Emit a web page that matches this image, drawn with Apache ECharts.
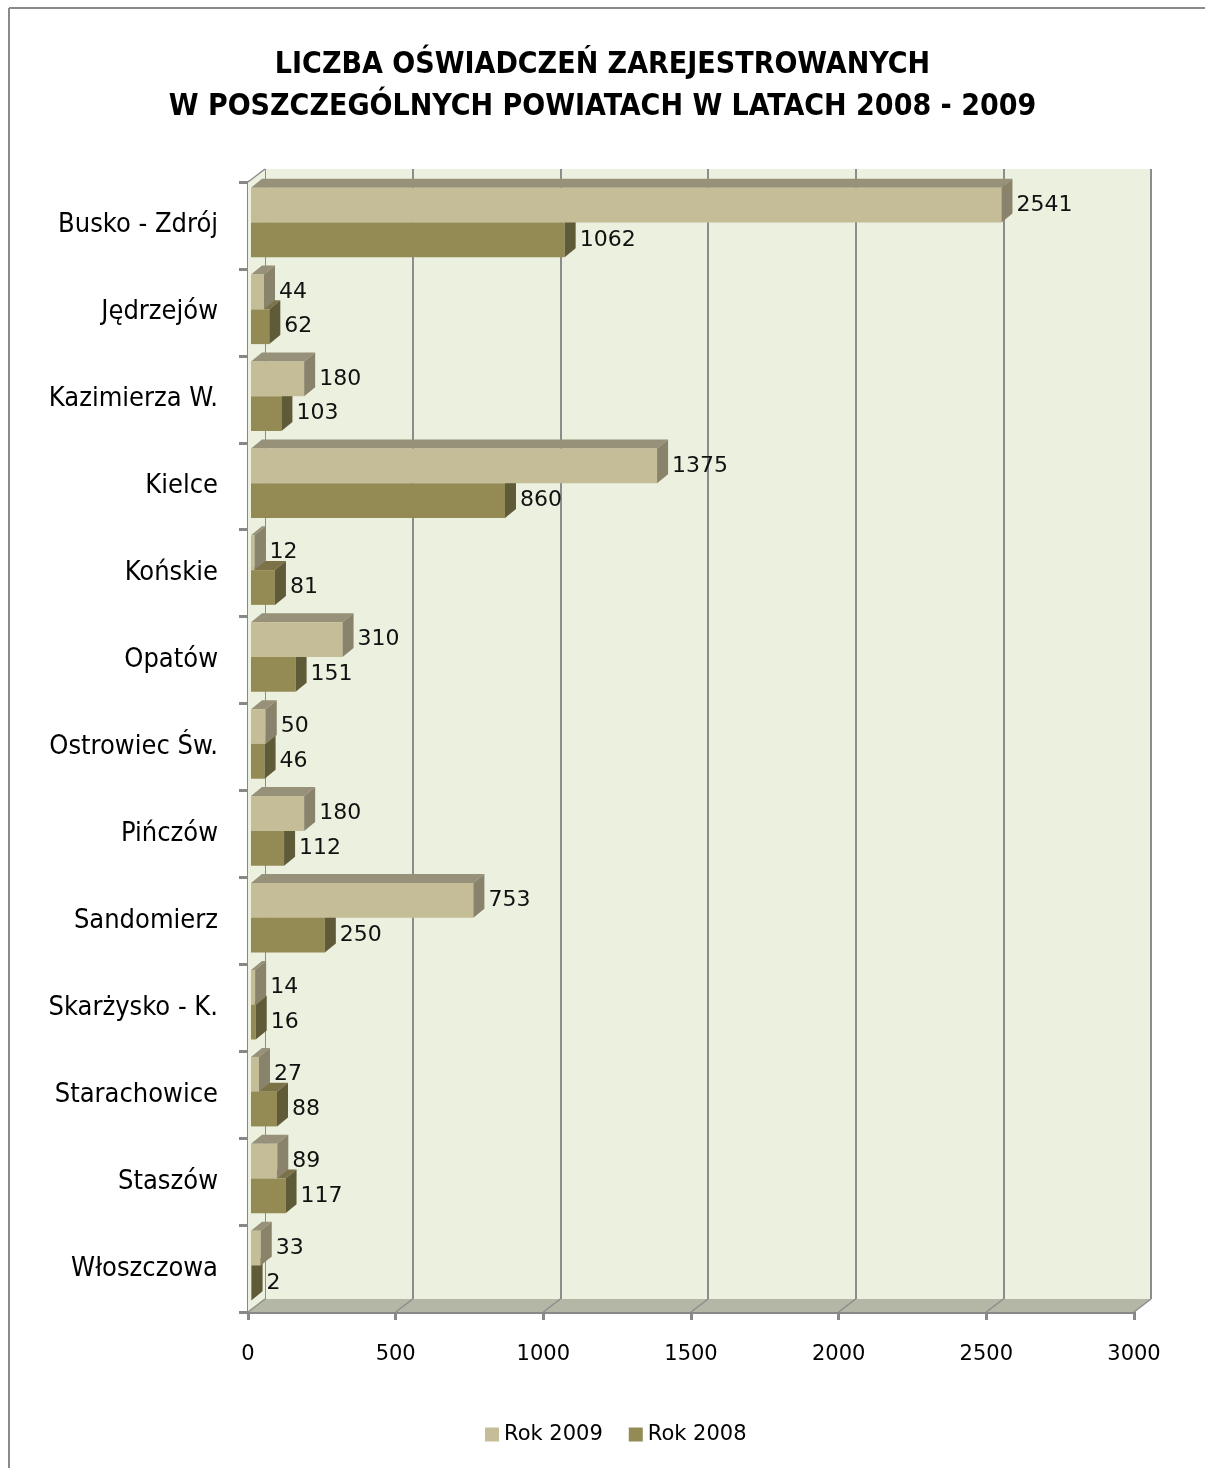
<!DOCTYPE html>
<html>
<head>
<meta charset="utf-8">
<script src="https://cdn.jsdelivr.net/npm/echarts@6/dist/echarts.min.js"></script>
<style>
html,body{margin:0;padding:0;background:#fff;}
#chart{width:1205px;height:1468px;}
</style>
</head>
<body>
<div id="chart"></div>
<script>
const categories = ['Busko - Zdrój','Jędrzejów','Kazimierza W.','Kielce','Końskie','Opatów','Ostrowiec Św.','Pińczów','Sandomierz','Skarżysko - K.','Starachowice','Staszów','Włoszczowa'];
const rok2009 = [2541, 44, 180, 1375, 12, 310, 50, 180, 753, 14, 27, 89, 33];
const rok2008 = [1062, 62, 103, 860, 81, 151, 46, 112, 250, 16, 88, 117, 2];
const xMin = 0, xMax = 3000, xStep = 500;

const FONT = "'DejaVu Sans Condensed', 'DejaVu Sans', sans-serif";
const WALL_DX = 17, WALL_DY = 13;   // 3D depth of the walls
const BAR_DX = 11, BAR_DY = 9;      // 3D depth of the bars
const BAR_H = 0.40;                 // bar height as a share of the band
const GRID = {left: 248, top: 182, width: 886, height: 1130};

const c2009 = {front:'#c4bd97', top:'#969178', side:'#88836a'};
const c2008 = {front:'#948a54', top:'#7b7347', side:'#5f5a37'};

function barRender(offTopRatio, col) {
  return function (params, api) {
    const cat = api.value(0), v = api.value(1);
    const p0 = api.coord([0, cat]);
    const p1 = api.coord([v, cat]);
    const bw = api.size([0, 1])[1];
    const top = p0[1] + offTopRatio * bw;
    const h = BAR_H * bw;
    const x0 = p0[0] + 3, xe = p1[0] + 3;
    return {
      type: 'group',
      children: [
        {type:'polygon', shape:{points:[[x0,top],[xe,top],[xe+BAR_DX,top-BAR_DY],[x0+BAR_DX,top-BAR_DY]]}, style:{fill:col.top}},
        {type:'rect', shape:{x:x0, y:top, width:Math.max(xe-x0,0.5), height:h}, style:{fill:col.front}},
        {type:'polygon', shape:{points:[[xe,top],[xe+BAR_DX,top-BAR_DY],[xe+BAR_DX,top+h-BAR_DY],[xe,top+h]]}, style:{fill:col.side}},
        {type:'text', x: xe + BAR_DX + 4, y: top + h/2,
          style:{text: String(v), fill:'#111', font: "22px 'DejaVu Sans', sans-serif", textVerticalAlign:'middle', textAlign:'left'}}
      ]
    };
  };
}

function frameRender(params, api) {
  const cs = params.coordSys;
  const x = cs.x, y = cs.y, w = cs.width, h = cs.height;
  const yb = y + h;
  const children = [];
  children.push({type:'polygon', shape:{points:[[x,y],[x+WALL_DX,y-WALL_DY],[x+WALL_DX,yb-WALL_DY],[x,yb]]}, style:{fill:'#ebf1de'}});
  children.push({type:'polygon', shape:{points:[[x,yb],[x+w,yb],[x+w+WALL_DX,yb-WALL_DY],[x+WALL_DX,yb-WALL_DY]]}, style:{fill:'#b4b6a6'}});
  for (let v = xMin; v <= xMax; v += xStep) {
    const px = api.coord([v, 0])[0];
    children.push({type:'line', shape:{x1:px, y1:yb, x2:px+WALL_DX, y2:yb-WALL_DY}, style:{stroke:'#8c8c8c', lineWidth:1.5}});
  }
  children.push({type:'line', shape:{x1:x, y1:y, x2:x+WALL_DX, y2:y-WALL_DY}, style:{stroke:'#8c8c8c', lineWidth:1.5}});
  return {type:'group', children};
}

const chart = echarts.init(document.getElementById('chart'));
chart.setOption({
  animation: false,
  backgroundColor: '#fff',
  title: {
    text: 'LICZBA OŚWIADCZEŃ ZAREJESTROWANYCH\nW POSZCZEGÓLNYCH POWIATACH W LATACH 2008 - 2009',
    left: 'center', top: 39,
    textStyle: {fontFamily: FONT, fontSize: 30, fontWeight: 'bold', color: '#000', lineHeight: 42}
  },
  legend: {
    left: 485, top: 1424, padding: 0,
    itemWidth: 14, itemHeight: 14, itemGap: 26,
    icon: 'rect',
    data: ['Rok 2009', 'Rok 2008'],
    textStyle: {fontFamily: "'DejaVu Sans', sans-serif", fontSize: 21, color: '#000'}
  },
  grid: [
    {left: GRID.left, top: GRID.top, width: GRID.width, height: GRID.height, containLabel: false},
    {left: GRID.left + WALL_DX, top: GRID.top - WALL_DY, width: GRID.width, height: GRID.height,
     show: true, backgroundColor: '#ebf1de', borderWidth: 0, z: -1}
  ],
  xAxis: [
    {gridIndex: 0, type: 'value', min: xMin, max: xMax, interval: xStep,
     axisLine: {show: true, lineStyle: {color: '#888', width: 3}},
     axisTick: {show: true, length: 8, lineStyle: {color: '#888', width: 3}},
     axisLabel: {margin: 32, fontFamily: "'DejaVu Sans', sans-serif", fontSize: 21, color: '#000',
                 formatter: v => String(v)},
     splitLine: {show: false}},
    {gridIndex: 1, type: 'value', min: xMin, max: xMax, interval: xStep,
     axisLine: {show: false}, axisTick: {show: false}, axisLabel: {show: false},
     splitLine: {show: true, lineStyle: {color: '#8c8c8c', width: 2}}}
  ],
  yAxis: [
    {gridIndex: 0, type: 'category', inverse: true, data: categories,
     axisLine: {show: true, lineStyle: {color: '#888', width: 3}},
     axisTick: {show: true, length: 9, lineStyle: {color: '#888', width: 3}},
     axisLabel: {margin: 30, fontFamily: FONT, fontSize: 27, color: '#000'},
     splitLine: {show: false}},
    {gridIndex: 1, type: 'category', inverse: true, data: categories, show: false}
  ],
  series: [
    {type: 'custom', name: 'frame', xAxisIndex: 0, yAxisIndex: 0, z: 1, silent: true,
     data: [[0, 0]], renderItem: frameRender},
    {type: 'custom', name: 'Rok 2008', xAxisIndex: 0, yAxisIndex: 0, z: 2,
     itemStyle: {color: c2008.front},
     encode: {x: 1, y: 0},
     data: rok2008.map((v, i) => [i, v]), renderItem: barRender(-0.035, c2008)},
    {type: 'custom', name: 'Rok 2009', xAxisIndex: 0, yAxisIndex: 0, z: 3,
     itemStyle: {color: c2009.front},
     encode: {x: 1, y: 0},
     data: rok2009.map((v, i) => [i, v]), renderItem: barRender(-0.035 - BAR_H, c2009)}
  ],
  graphic: [
    {type: 'line', shape: {x1: 9, y1: 8, x2: 1205, y2: 8}, style: {stroke: '#8a8a8a', lineWidth: 2}},
    {type: 'line', shape: {x1: 9, y1: 8, x2: 9, y2: 1468}, style: {stroke: '#8a8a8a', lineWidth: 2}}
  ]
});
</script>
</body>
</html>
